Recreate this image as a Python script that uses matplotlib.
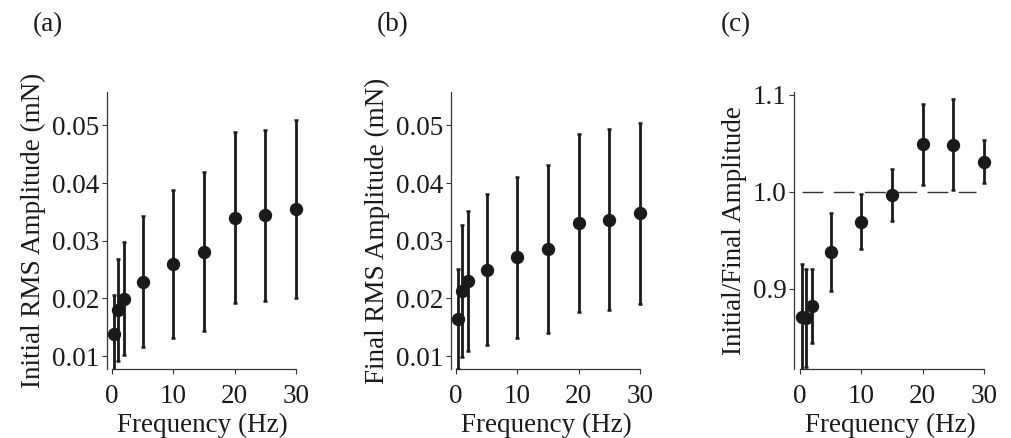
import numpy as np
import matplotlib
matplotlib.use("Agg")
import matplotlib.pyplot as plt

# frequencies (Hz)
freq = [0.3, 1, 2, 5, 10, 15, 20, 25, 30]

# (a) initial RMS amplitude (mN), mean and error
init_amp = [0.0138, 0.0180, 0.0199, 0.0229, 0.0260, 0.0281, 0.0340, 0.0344, 0.0355]
init_err = [0.0067, 0.0089, 0.0098, 0.0114, 0.0128, 0.0138, 0.0148, 0.0148, 0.0154]

# (b) final RMS amplitude (mN)
final_amp = [0.0164, 0.0213, 0.0230, 0.0250, 0.0271, 0.0286, 0.0331, 0.0336, 0.0348]
final_err = [0.0087, 0.0114, 0.0121, 0.0131, 0.0140, 0.0146, 0.0155, 0.0157, 0.0157]

# (c) ratio initial/final
ratio = [0.8705, 0.8694, 0.8820, 0.9375, 0.9688, 0.9962, 1.0486, 1.0483, 1.0309]
ratio_err = [0.0548, 0.0504, 0.0377, 0.0401, 0.0283, 0.0270, 0.0419, 0.0470, 0.0220]

ref_level = 1.0
ref_span = [0.3, 28.7]

panel_tags = ['(a)', '(b)', '(c)']
ylabels = ['Initial RMS Amplitude (mN)', 'Final RMS Amplitude (mN)', 'Initial/Final Amplitude']

plt.rcParams['font.family'] = ['Liberation Serif', 'DejaVu Serif']
plt.rcParams['lines.scale_dashes'] = False
FS = 19.5
INK = '#1a1a1a'
SPINE = '#333333'

fig = plt.figure(figsize=(10.12, 4.38), dpi=100)

bottom = 69 / 438.
height = 277 / 438.
lefts = [107 / 1012., 450.7 / 1012., 794.3 / 1012.]
xlefts = [-0.8, -0.86, -0.93]
xright = 32.0
ppu = 6.13  # pixels per Hz

ys = [init_amp, final_amp, ratio]
errs = [init_err, final_err, ratio_err]
ylims = [(0.00775, 0.0558), (0.00775, 0.0558), (0.817, 1.1027)]
yticks = [[0.01, 0.02, 0.03, 0.04, 0.05], [0.01, 0.02, 0.03, 0.04, 0.05], [0.9, 1.0, 1.1]]
yfmt = ['{:.2f}', '{:.2f}', '{:.1f}']

for i in range(3):
    w = (xright - xlefts[i]) * ppu / 1012.
    ax = fig.add_axes([lefts[i], bottom, w, height])
    if i == 2:
        ax.plot(ref_span, [ref_level, ref_level], color='#333333', lw=1.0,
                dashes=[15, 7.5], zorder=1)
    ax.errorbar(freq, ys[i], yerr=errs[i], fmt='o', color=INK, ms=8.6,
                elinewidth=2.0, capsize=1.4, capthick=1.8, zorder=3)
    ax.set_xlim(xlefts[i], xright)
    ax.set_ylim(*ylims[i])
    for s in ['top', 'right']:
        ax.spines[s].set_visible(False)
    ax.spines['bottom'].set_bounds(0, 30)
    for s in ['left', 'bottom']:
        ax.spines[s].set_color(SPINE)
        ax.spines[s].set_linewidth(0.9)
    ax.set_xticks([0, 10, 20, 30])
    ax.set_yticks(yticks[i])
    ax.set_yticklabels([yfmt[i].format(v) for v in yticks[i]])
    ax.tick_params(direction='out', length=3.6, width=0.8, color=SPINE,
                   labelsize=FS, labelcolor=INK)
    ax.tick_params(axis='x', pad=7)
    ax.tick_params(axis='y', pad=2)
    ax.set_xlabel('Frequency (Hz)', fontsize=FS, color=INK, labelpad=3)
    # centre the x label under the 0-30 spine
    ax.xaxis.label.set_x((14.7 - xlefts[i]) / (xright - xlefts[i]))
    ax.set_ylabel(ylabels[i], fontsize=FS, color=INK, labelpad=4)
    fig.text(lefts[i] - 74 / 1012., 1 - 25 / 438., panel_tags[i], fontsize=FS,
             color=INK, va='center', ha='left')

fig.savefig('out.png', dpi=100, facecolor='white')
